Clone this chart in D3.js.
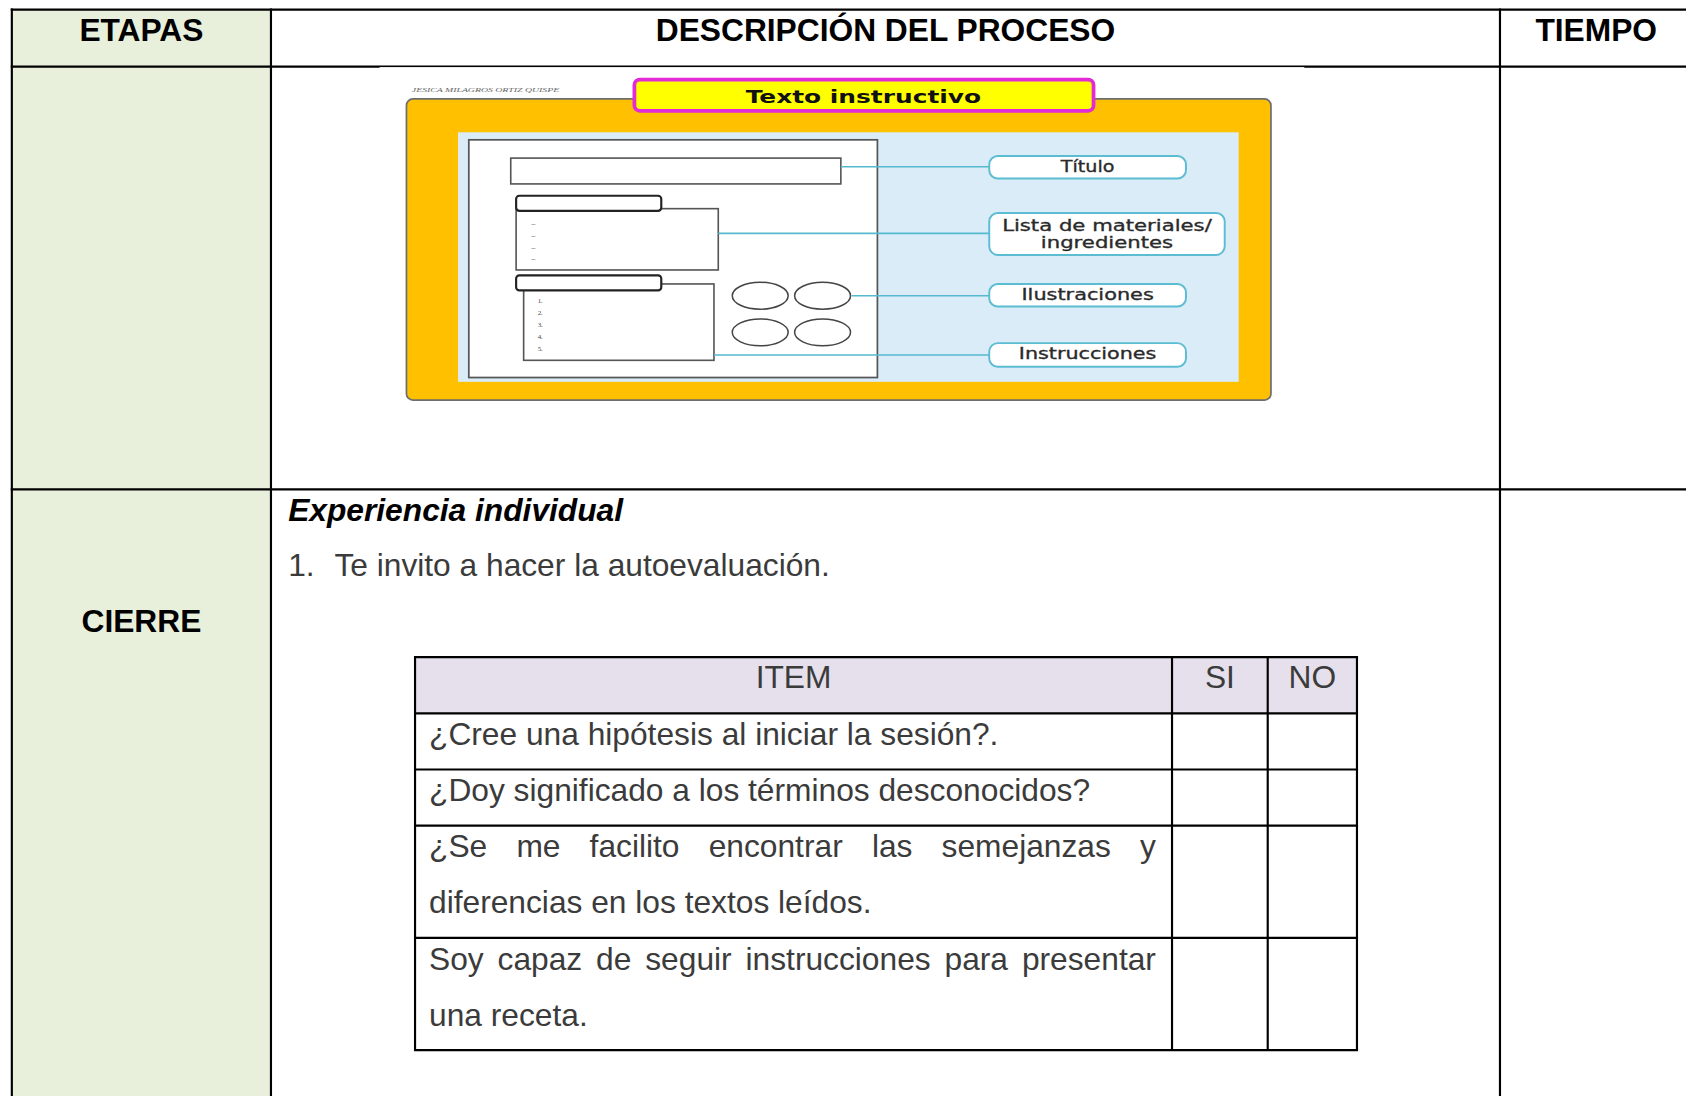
<!DOCTYPE html>
<html><head><meta charset="utf-8">
<script src="https://cdn.jsdelivr.net/npm/d3@7"></script>
<style>html,body{margin:0;padding:0;background:#fff;overflow:hidden}</style>
</head><body>
<svg id="c"></svg>
<script>
// ---------- data ----------
const headers = ["ETAPAS", "DESCRIPCIÓN DEL PROCESO", "TIEMPO"];
const stages = ["", "CIERRE"];
const sectionTitle = "Experiencia individual";
const instructionNumber = "1.";
const instruction = "Te invito a hacer la autoevaluación.";
const checkHeaders = ["ITEM", "SI", "NO"];
const checkItems = [
  ["¿Cree una hipótesis al iniciar la sesión?."],
  ["¿Doy significado a los términos desconocidos?"],
  ["¿Se me facilito encontrar las semejanzas y", "diferencias en los textos leídos."],
  ["Soy capaz de seguir instrucciones para presentar", "una receta."]
];
const diagramTitle = "Texto instructivo";
const diagramAuthor = "JESICA MILAGROS ORTIZ QUISPE";
const diagramLabels = [["Título"], ["Lista de materiales/", "ingredientes"], ["Ilustraciones"], ["Instrucciones"]];
const ingredientMarks = ["–", "–", "–", "–"];
const stepNumbers = ["1.", "2.", "3.", "4.", "5."];

// ---------- layout ----------
const W = 1568, H = 1019;
const svg = d3.select("#c").attr("width", 1686).attr("height", 1096)
  .attr("viewBox", `0 0 ${W} ${H}`).attr("preserveAspectRatio", "none");

const FONT = "'Liberation Sans', Arial, sans-serif";
const colEdges = [11, 252, 1395, 1574];
const rowEdges = [9, 62, 455, 1040];
const xCol = d3.scaleOrdinal().domain(d3.range(4)).range(colEdges);
const yRow = d3.scaleOrdinal().domain(d3.range(4)).range(rowEdges);

// green etapas column
svg.append("rect").attr("x", xCol(0)).attr("y", yRow(0))
  .attr("width", xCol(1) - xCol(0)).attr("height", yRow(3) - yRow(0)).attr("fill", "#E8F0DC");

// header texts
svg.selectAll("text.h").data(headers).join("text").attr("class", "h")
  .attr("x", (d, i) => (xCol(i) + xCol(i + 1)) / 2).attr("y", 38)
  .attr("text-anchor", "middle").attr("font-family", FONT).attr("font-weight", "bold")
  .attr("font-size", 29.5).attr("fill", "#000").text(d => d);

// stage names
svg.selectAll("text.st").data(stages).join("text").attr("class", "st")
  .attr("x", (xCol(0) + xCol(1)) / 2).attr("y", (d, i) => i === 1 ? 588 : 300)
  .attr("text-anchor", "middle").attr("font-family", FONT).attr("font-weight", "bold")
  .attr("font-size", 29.5).attr("fill", "#000").text(d => d);

// ---------- diagram image ----------
const g = svg.append("g");
g.append("text").attr("x", 383).attr("y", 86).attr("font-family", "'Liberation Serif', serif")
  .attr("font-style", "italic").attr("font-size", 5.5).attr("fill", "#666")
  .attr("textLength", 137).attr("lengthAdjust", "spacingAndGlyphs").text(diagramAuthor);
g.append("rect").attr("x", 378).attr("y", 92).attr("width", 804).attr("height", 280).attr("rx", 6)
  .attr("fill", "#FFC000").attr("stroke", "#6e6e6e").attr("stroke-width", 1.6);
g.append("rect").attr("x", 590).attr("y", 74).attr("width", 427).attr("height", 29).attr("rx", 5)
  .attr("fill", "#FFFF00").attr("stroke", "#E22BD6").attr("stroke-width", 3.5);
g.append("text").attr("x", 803).attr("y", 95.5).attr("text-anchor", "middle")
  .attr("font-family", "'DejaVu Sans', sans-serif").attr("font-weight", "bold").attr("font-size", 16)
  .attr("fill", "#111").attr("textLength", 219).attr("lengthAdjust", "spacingAndGlyphs").text(diagramTitle);
g.append("rect").attr("x", 426).attr("y", 123).attr("width", 726).attr("height", 232).attr("fill", "#D9ECF7");
g.append("rect").attr("x", 436).attr("y", 130).attr("width", 380).attr("height", 221)
  .attr("fill", "#fff").attr("stroke", "#555").attr("stroke-width", 1.6);
g.append("rect").attr("x", 475).attr("y", 147).attr("width", 307).attr("height", 24)
  .attr("fill", "#fff").attr("stroke", "#555").attr("stroke-width", 1.5);
g.append("rect").attr("x", 480).attr("y", 194).attr("width", 188).attr("height", 57)
  .attr("fill", "#fff").attr("stroke", "#555").attr("stroke-width", 1.5);
g.append("rect").attr("x", 480).attr("y", 182).attr("width", 135).attr("height", 14).attr("rx", 3)
  .attr("fill", "#fff").attr("stroke", "#222").attr("stroke-width", 2);
g.append("rect").attr("x", 487).attr("y", 264).attr("width", 177).attr("height", 71)
  .attr("fill", "#fff").attr("stroke", "#555").attr("stroke-width", 1.5);
g.append("rect").attr("x", 480).attr("y", 256).attr("width", 135).attr("height", 14).attr("rx", 3)
  .attr("fill", "#fff").attr("stroke", "#222").attr("stroke-width", 2);
const yMarks = d3.scalePoint().domain(d3.range(ingredientMarks.length)).range([210, 243]);
g.selectAll("text.im").data(ingredientMarks).join("text").attr("class", "im")
  .attr("x", 494).attr("y", (d, i) => yMarks(i)).attr("font-family", FONT).attr("font-size", 7)
  .attr("fill", "#777").text(d => d);
const ySteps = d3.scalePoint().domain(d3.range(stepNumbers.length)).range([282, 326]);
g.selectAll("text.sn").data(stepNumbers).join("text").attr("class", "sn")
  .attr("x", 500).attr("y", (d, i) => ySteps(i)).attr("font-family", "'Liberation Serif', serif").attr("font-size", 6.5)
  .attr("fill", "#444").text(d => d);
const ellipses = [[707, 275], [765, 275], [707, 309], [765, 309]];
g.selectAll("ellipse").data(ellipses).join("ellipse")
  .attr("cx", d => d[0]).attr("cy", d => d[1]).attr("rx", 26).attr("ry", 12.5)
  .attr("fill", "#fff").attr("stroke", "#444").attr("stroke-width", 1.4);
const connectors = [[782, 155], [668, 217], [792, 275], [664, 330]];
g.selectAll("line.cn").data(connectors).join("line").attr("class", "cn")
  .attr("x1", d => d[0]).attr("x2", 920).attr("y1", d => d[1]).attr("y2", d => d[1])
  .attr("stroke", "#55B9CF").attr("stroke-width", 1.5);
const labelBoxes = [
  {x: 920, y: 145, w: 183, h: 21, tl: [50], by: [160]},
  {x: 920, y: 198, w: 219, h: 39, tl: [195, 123], by: [215, 231]},
  {x: 920, y: 264, w: 183, h: 21, tl: [123], by: [279]},
  {x: 920, y: 319, w: 183, h: 22, tl: [128], by: [334]}
];
diagramLabels.forEach((lines, i) => {
  const b = labelBoxes[i];
  g.append("rect").attr("x", b.x).attr("y", b.y).attr("width", b.w).attr("height", b.h).attr("rx", 8)
    .attr("fill", "#fff").attr("stroke", "#5BBCD2").attr("stroke-width", 1.8);
  lines.forEach((t, j) => {
    g.append("text").attr("x", b.x + b.w / 2).attr("y", b.by[j]).attr("text-anchor", "middle")
      .attr("font-family", "'DejaVu Sans', sans-serif").attr("font-size", 14).attr("fill", "#2a2a2a")
      .attr("stroke", "#2a2a2a").attr("stroke-width", 0.3)
      .attr("textLength", b.tl[j]).attr("lengthAdjust", "spacingAndGlyphs").text(t);
  });
});

// ---------- outer grid lines ----------
const grid = svg.append("g").attr("stroke", "#000").attr("stroke-width", 2);
rowEdges.slice(0, 3).forEach(y => grid.append("line").attr("x1", xCol(0) - 1).attr("x2", W + 10).attr("y1", y).attr("y2", y));
colEdges.slice(0, 3).forEach(x => grid.append("line").attr("x1", x).attr("x2", x).attr("y1", yRow(0) - 1).attr("y2", yRow(3)));
// image white margin overlapping header line
svg.append("rect").attr("x", 353).attr("y", 62.4).attr("width", 860).attr("height", 1.2).attr("fill", "#fff");

// ---------- cierre content ----------
svg.append("text").attr("x", 268).attr("y", 484.5).attr("font-family", FONT)
  .attr("font-weight", "bold").attr("font-style", "italic").attr("font-size", 29.5).attr("fill", "#000").text(sectionTitle);
svg.append("text").attr("x", 268).attr("y", 536).attr("font-family", FONT).attr("font-size", 29.5)
  .attr("fill", "#3b3b3b").text(instructionNumber);
svg.append("text").attr("x", 311).attr("y", 536).attr("font-family", FONT).attr("font-size", 29.5)
  .attr("fill", "#3b3b3b").text(instruction);

// ---------- checklist table ----------
const tX = [386, 1090, 1179, 1262];
const lineH = 52.2;
const rowLines = [1].concat(checkItems.map(d => d.length));
const tTop = 611;
const rowTops = [tTop];
rowLines.forEach((n, i) => rowTops.push(rowTops[i] + n * lineH));
const yT = d3.scaleOrdinal().domain(d3.range(rowTops.length)).range(rowTops);
const xT = d3.scaleOrdinal().domain(d3.range(4)).range(tX);

svg.append("rect").attr("x", xT(0)).attr("y", yT(0)).attr("width", xT(3) - xT(0)).attr("height", yT(1) - yT(0))
  .attr("fill", "#E5E0EC");
svg.selectAll("text.ch").data(checkHeaders).join("text").attr("class", "ch")
  .attr("x", (d, i) => (xT(i) + xT(i + 1)) / 2).attr("y", yT(0) + 29)
  .attr("text-anchor", "middle").attr("font-family", FONT).attr("font-size", 29.5).attr("fill", "#3b3b3b").text(d => d);

const textLeft = 399, textRight = 1075;
checkItems.forEach((lines, r) => {
  lines.forEach((line, j) => {
    const y = yT(r + 1) + 29.5 + j * lineH;
    const justify = j < lines.length - 1;
    if (!justify) {
      svg.append("text").attr("x", textLeft).attr("y", y).attr("font-family", FONT)
        .attr("font-size", 29.5).attr("fill", "#3b3b3b").text(line);
    } else {
      const words = line.split(" ");
      const nodes = words.map(w => svg.append("text").attr("y", y).attr("font-family", FONT)
        .attr("font-size", 29.5).attr("fill", "#3b3b3b").text(w));
      const widths = nodes.map(n => n.node().getComputedTextLength());
      const gap = (textRight - textLeft - d3.sum(widths)) / (words.length - 1);
      let x = textLeft;
      nodes.forEach((n, k) => { n.attr("x", x); x += widths[k] + gap; });
    }
  });
});
const tg = svg.append("g").attr("stroke", "#000").attr("stroke-width", 2);
rowTops.forEach(y => tg.append("line").attr("x1", xT(0) - 1).attr("x2", xT(3) + 1).attr("y1", y).attr("y2", y));
tX.forEach(x => tg.append("line").attr("x1", x).attr("x2", x).attr("y1", yT(0)).attr("y2", rowTops[rowTops.length - 1]));
</script>
</body></html>
